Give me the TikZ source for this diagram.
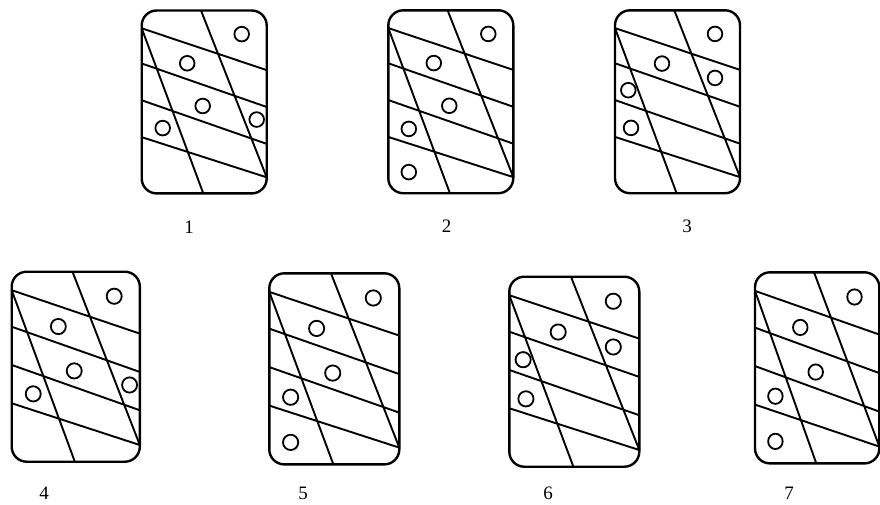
\documentclass[tikz,border=0pt]{standalone}
\usepackage{fontspec}
\setmainfont{Liberation Serif}
\tikzset{
  frame/.style={line width=2.4pt, rounded corners=15pt},
  stripe/.style={line width=1.9pt},
  dot/.style={line width=1.8pt},
  lbl/.style={font=\fontsize{19}{22}\selectfont, inner sep=0pt}
}
\newcommand\cardlines{%
  \draw[frame] (0,0) rectangle (125,182);
  \draw[stripe] (0,17.7) -- (125,59.3)
                (0,52.7) -- (125,96)
                (0,89.3) -- (125,132.7)
                (0,126) -- (125,166)
                (0,17.7) -- (61.6,182)
                (59.3,0) -- (125,166);
}
% #1 shift, #2 xscale, #3 yscale, #4 macro holding list of circle centres a/b
\newcommand\card[4]{%
  \begin{scope}[shift={(#1)},xscale=#2,yscale=#3]
    \cardlines
    \foreach \a/\b in #4 \draw[dot] (\a,\b) circle[radius=7.3pt];
  \end{scope}}
\begin{document}
\begin{tikzpicture}[x=1pt,y=-1pt]
\useasboundingbox (0,0) rectangle (880,504);
\fill[white] (0,0) rectangle (880,504);
\def\setX{100/23.5, 45.5/52.5, 61/95, 115/108.5, 21/117}
\def\setY{100/23.5, 45.5/52.5, 61/95, 20.5/118, 20.5/161}
\def\setZ{100/23.5, 47/53, 100/67.3, 13.3/79.5, 16/117}
\card{141.7,10.5}{1}{1.005}{\setX}
\card{388.3,10.3}{1}{1.005}{\setY}
\card{615,10.3}{1}{1.005}{\setZ}
\card{11.7,271.7}{1.025}{1.044}{\setX}
\card{269.3,273.3}{1.04}{1.05}{\setY}
\card{509.3,276.7}{1.04}{1.044}{\setZ}
\card{755,272.3}{0.995}{1.05}{\setY}
\node[lbl] (l1) at (189,227) {1};
\node[lbl] (l2) at (446.5,226) {2};
\node[lbl] (l3) at (687,226) {3};
\node[lbl] (l4) at (44,493) {4};
\node[lbl] (l5) at (303,493) {5};
\node[lbl] (l6) at (548,493) {6};
\node[lbl] (l7) at (789,493) {7};
\end{tikzpicture}
\end{document}
